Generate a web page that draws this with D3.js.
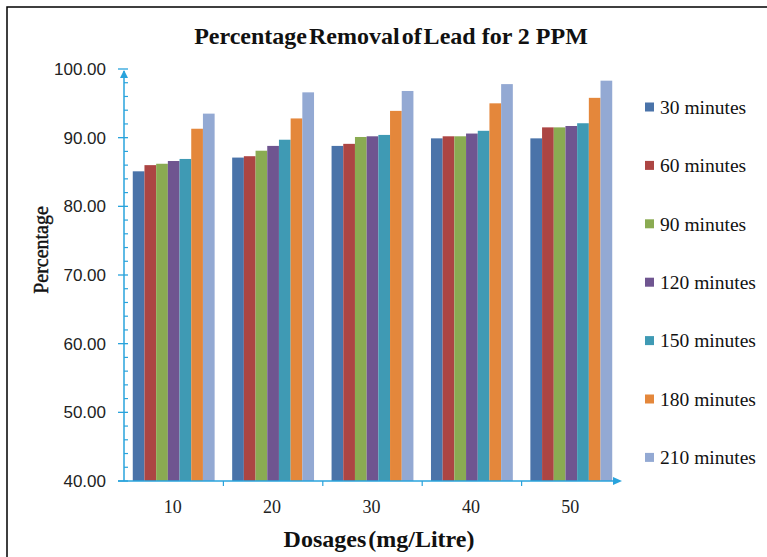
<!DOCTYPE html>
<html>
<head>
<meta charset="utf-8">
<script src="https://cdn.jsdelivr.net/npm/d3@7"></script>
<style>
  html, body { margin: 0; padding: 0; background: #fff; }
  svg { display: block; font-family: "Liberation Serif", "Times New Roman", serif; }
</style>
</head>
<body>
<svg id="chart" width="767" height="557"></svg>
<script>
// data
const dosages = ["10", "20", "30", "40", "50"];
const seriesNames = ["30 minutes", "60 minutes", "90 minutes", "120 minutes", "150 minutes", "180 minutes", "210 minutes"];
const seriesColors = ["#4a73a9", "#ac4543", "#8aab52", "#6f5590", "#3f9ab4", "#e4873b", "#93a9d3"];
const min30  = [85.1, 87.1, 88.8, 89.9, 89.9];
const min60  = [86.0, 87.3, 89.1, 90.2, 91.5];
const min90  = [86.2, 88.1, 90.1, 90.2, 91.5];
const min120 = [86.6, 88.8, 90.2, 90.6, 91.7];
const min150 = [86.9, 89.7, 90.4, 91.0, 92.1];
const min180 = [91.3, 92.8, 93.9, 95.0, 95.8];
const min210 = [93.5, 96.6, 96.8, 97.8, 98.3];
const allSeries = [min30, min60, min90, min120, min150, min180, min210];

const svg = d3.select("#chart");
const axisColor = "#29a3dc";
const axX = 124;

// outer frame
svg.append("rect")
    .attr("x", 7).attr("y", 7)
    .attr("width", 820).attr("height", 620)
    .attr("fill", "none")
    .attr("stroke", "#000")
    .attr("stroke-width", 1.5);

const x0 = d3.scaleBand()
    .domain(dosages)
    .range([axX, 621])
    .paddingInner(0);
const x1 = d3.scaleBand()
    .domain(seriesNames)
    .range([0, x0.bandwidth()])
    .paddingInner(0)
    .paddingOuter(0.75);
const y = d3.scaleLinear()
    .domain([40, 100])
    .range([481, 69]);

// bars
const groups = svg.append("g").selectAll("g")
    .data(dosages)
    .join("g")
    .attr("transform", d => `translate(${x0(d)},0)`);

groups.selectAll("rect")
    .data((d, i) => seriesNames.map((s, k) => ({ s: s, v: allSeries[k][i], c: seriesColors[k] })))
    .join("rect")
    .attr("x", d => x1(d.s))
    .attr("width", x1.bandwidth())
    .attr("y", d => y(d.v))
    .attr("height", d => y(40) - y(d.v))
    .attr("fill", d => d.c);

// y axis: minor ticks inside, major ticks both sides
const yAxis = svg.append("g");
yAxis.append("line")
    .attr("x1", axX).attr("x2", axX)
    .attr("y1", y(40)).attr("y2", y(100) + 2)
    .attr("stroke", axisColor).attr("stroke-width", 1.5);
yAxis.append("path")
    .attr("d", `M${axX - 4},${y(100) + 9} L${axX},${y(100) + 1} L${axX + 4},${y(100) + 9} Z`)
    .attr("fill", axisColor);
yAxis.selectAll("line.minor")
    .data(d3.range(42, 100, 2).filter(v => v % 10 !== 0))
    .join("line")
    .attr("class", "minor")
    .attr("x1", axX).attr("x2", axX + 4)
    .attr("y1", d => y(d)).attr("y2", d => y(d))
    .attr("stroke", axisColor).attr("stroke-width", 1.2);
yAxis.selectAll("line.major")
    .data(d3.range(40, 101, 10))
    .join("line")
    .attr("class", "major")
    .attr("x1", axX - 6).attr("x2", axX + 4)
    .attr("y1", d => y(d)).attr("y2", d => y(d))
    .attr("stroke", axisColor).attr("stroke-width", 1.3);
yAxis.selectAll("text")
    .data(d3.range(40, 101, 10))
    .join("text")
    .attr("x", 106)
    .attr("y", d => y(d))
    .attr("dy", "0.35em")
    .attr("text-anchor", "end")
    .attr("font-family", "'Liberation Sans', Arial, sans-serif")
    .attr("font-size", 17)
    .attr("fill", "#222")
    .text(d => d3.format(".2f")(d));

// x axis
const xAxis = svg.append("g");
xAxis.append("line")
    .attr("x1", axX - 6).attr("x2", 615)
    .attr("y1", y(40)).attr("y2", y(40))
    .attr("stroke", axisColor).attr("stroke-width", 1.5);
xAxis.append("path")
    .attr("d", `M613,${y(40) - 4} L622,${y(40)} L613,${y(40) + 4} Z`)
    .attr("fill", axisColor);
xAxis.selectAll("line.tick")
    .data(dosages.slice(1))
    .join("line")
    .attr("class", "tick")
    .attr("x1", d => x0(d)).attr("x2", d => x0(d))
    .attr("y1", y(40)).attr("y2", y(40) + 5)
    .attr("stroke", axisColor).attr("stroke-width", 1.2);
xAxis.selectAll("text")
    .data(dosages)
    .join("text")
    .attr("x", d => x0(d) + x0.bandwidth() / 2 - 1)
    .attr("y", 507)
    .attr("dy", "0.35em")
    .attr("text-anchor", "middle")
    .attr("font-size", 18)
    .attr("fill", "#222")
    .text(d => d);

// titles (tight word spacing in the first half, as in the original)
const title = svg.append("text")
    .attr("x", 391).attr("y", 44)
    .attr("text-anchor", "middle")
    .attr("font-size", 24)
    .attr("font-weight", "bold")
    .attr("fill", "#111");
title.append("tspan")
    .attr("word-spacing", -4)
    .text("Percentage Removal of Lead");
title.append("tspan")
    .text(" for 2 PPM");

svg.append("text")
    .attr("x", 379).attr("y", 547)
    .attr("text-anchor", "middle")
    .attr("font-size", 24)
    .attr("font-weight", "bold")
    .attr("word-spacing", -4)
    .attr("fill", "#111")
    .text("Dosages (mg/Litre)");

svg.append("text")
    .attr("transform", "translate(48,250) rotate(-90)")
    .attr("text-anchor", "middle")
    .attr("font-size", 20)
    .attr("stroke", "#111")
    .attr("stroke-width", 0.4)
    .attr("fill", "#111")
    .text("Percentage");

// legend
const legend = svg.append("g").selectAll("g")
    .data(seriesNames)
    .join("g")
    .attr("transform", (d, i) => `translate(645,${107 + i * 58.4})`);
legend.append("rect")
    .attr("x", 0).attr("y", -4.5)
    .attr("width", 9).attr("height", 9)
    .attr("fill", (d, i) => seriesColors[i]);
legend.append("text")
    .attr("x", 15)
    .attr("dy", "0.35em")
    .attr("font-size", 19.5)
    .attr("fill", "#111")
    .text(d => d);
</script>
</body>
</html>
